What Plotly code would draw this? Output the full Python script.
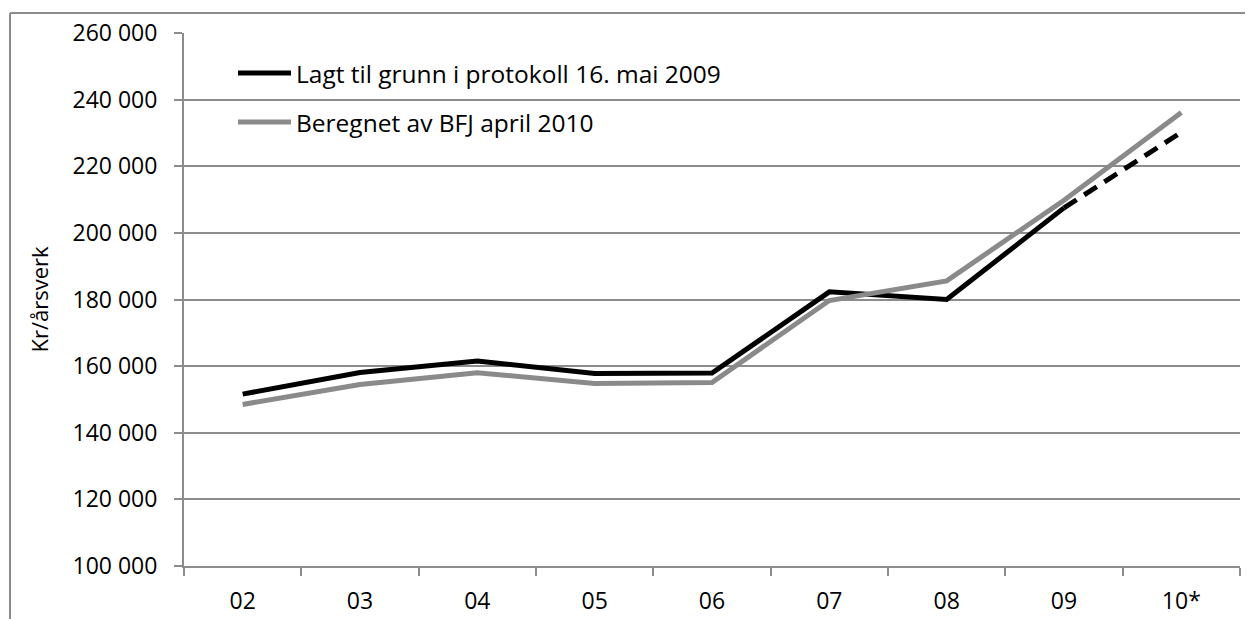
import plotly.graph_objects as go

# ---- data ----
years = ["02", "03", "04", "05", "06", "07", "08", "09", "10*"]
protokoll = [151600, 158100, 161500, 157800, 157900, 182300, 180000, 207500, 230200]
bfj = [148500, 154500, 158000, 154800, 155100, 179700, 185600, 209800, 236100]
y_tick_vals = [100000, 120000, 140000, 160000, 180000, 200000, 220000, 240000, 260000]
y_tick_text = ["100 000", "120 000", "140 000", "160 000", "180 000",
               "200 000", "220 000", "240 000", "260 000"]
series_names = ["Lagt til grunn i protokoll 16. mai 2009", "Beregnet av BFJ april 2010"]
y_title = "Kr/årsverk"

# ---- layout constants (page pixels; page body has an 8px margin) ----
OFF = 8
W, H = 1253 - OFF, 619 - OFF
L, R, T, B = 184 - OFF, 13, 33 - OFF, 53
PW, PH = W - L - R, H - T - B
FONT = "Open Sans"
GRAY = "#8a8a8a"
AX = "#8c8c8c"


def px(x):
    return (x - OFF - L) / PW


def py(y):
    return (H - B - (y - OFF)) / PH


fig = go.Figure()
fig.add_trace(go.Scatter(x=years[:8], y=protokoll[:8], mode="lines",
                         line=dict(color="black", width=5), name=series_names[0],
                         showlegend=False))
fig.add_trace(go.Scatter(x=years[7:], y=protokoll[7:], mode="lines",
                         line=dict(color="black", width=5, dash="15px,9px"),
                         showlegend=False))
fig.add_trace(go.Scatter(x=years, y=bfj, mode="lines",
                         line=dict(color=GRAY, width=5), name=series_names[1],
                         showlegend=False))

shapes = [
    # outer chart border (left and top visible)
    dict(type="line", xref="paper", yref="paper", x0=px(10), x1=px(10), y0=py(13), y1=py(640),
         line=dict(color=AX, width=2)),
    dict(type="line", xref="paper", yref="paper", x0=px(10), x1=px(1270), y0=py(13), y1=py(13),
         line=dict(color=AX, width=2)),
    # legend samples
    dict(type="line", xref="paper", yref="paper", x0=px(238), x1=px(291), y0=py(73), y1=py(73),
         line=dict(color="black", width=5)),
    dict(type="line", xref="paper", yref="paper", x0=px(238), x1=px(291), y0=py(122), y1=py(122),
         line=dict(color=GRAY, width=5)),
]
annotations = [
    dict(text=series_names[0], xref="paper", yref="paper", x=px(294), y=py(73),
         xanchor="left", yanchor="middle", showarrow=False, font=dict(family=FONT, size=24.5, color="black")),
    dict(text=series_names[1], xref="paper", yref="paper", x=px(294), y=py(122),
         xanchor="left", yanchor="middle", showarrow=False, font=dict(family=FONT, size=24.5, color="black")),
    dict(text=y_title, xref="paper", yref="paper", x=px(38), y=0.5, textangle=-90,
         xanchor="center", yanchor="middle", showarrow=False, font=dict(family=FONT, size=22, color="black")),
]

fig.update_layout(
    width=W, height=H, autosize=False,
    margin=dict(l=L, r=R, t=T, b=B, pad=0, autoexpand=False),
    paper_bgcolor="white", plot_bgcolor="white",
    font=dict(family=FONT, size=23, color="black"),
    shapes=shapes, annotations=annotations, showlegend=False,
    xaxis=dict(type="category", categoryorder="array", categoryarray=years,
               range=[-0.5, 8.5], tickson="boundaries", ticks="outside", ticklen=8,
               tickcolor=AX, tickwidth=2, showline=True, linecolor=AX, linewidth=2,
               showgrid=False, zeroline=False, ticklabelstandoff=13, automargin=False,
               tickfont=dict(family=FONT, size=23)),
    yaxis=dict(range=[100000, 260000], tickvals=y_tick_vals, ticktext=y_tick_text,
               ticks="outside", ticklen=8, tickcolor=AX, tickwidth=2,
               showline=True, linecolor=AX, linewidth=2, showgrid=True, gridcolor=AX,
               gridwidth=1.5, zeroline=False, ticklabelstandoff=12, automargin=False,
               tickfont=dict(family=FONT, size=23)),
)

fig.write_html("out.html")
